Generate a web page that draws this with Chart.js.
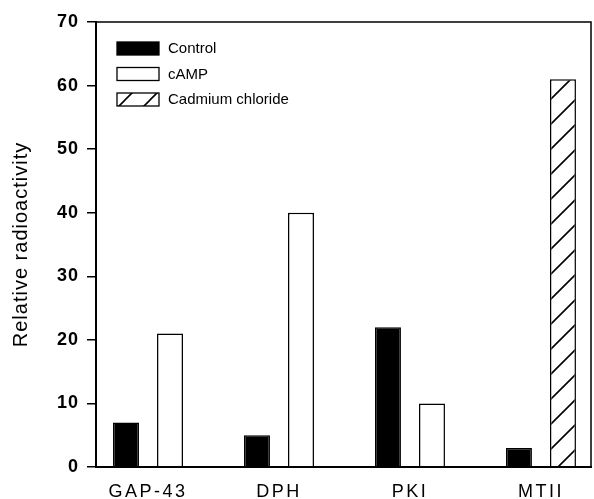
<!DOCTYPE html>
<html>
<head>
<meta charset="utf-8">
<script src="https://cdn.jsdelivr.net/npm/chart.js@4.4.1/dist/chart.umd.min.js"></script>
<style>
  body { margin: 0; background: #fff; }
  #wrap { width: 594px; height: 499px; }
</style>
</head>
<body>
<div id="wrap"><canvas id="chart" width="594" height="499"></canvas></div>
<script>
// values
const categories = ['GAP-43', 'DPH', 'PKI', 'MTII'];
const control = [7, 5, 22, 3];
const camp = [21, 40, 10, null];
const cadmium = [null, null, null, 61];
const yTicks = [0, 10, 20, 30, 40, 50, 60, 70];

const FONT = '"Liberation Sans", Arial, sans-serif';

// diagonal hatch for the cadmium bars
function makeHatch() {
  const c = document.createElement('canvas');
  c.width = 25; c.height = 25;
  const g = c.getContext('2d');
  g.fillStyle = '#fff';
  g.fillRect(0, 0, 25, 25);
  g.strokeStyle = '#000';
  g.lineWidth = 1.6;
  g.beginPath();
  g.moveTo(-2, 27); g.lineTo(27, -2);
  g.moveTo(-5, 5); g.lineTo(5, -5);
  g.moveTo(20, 30); g.lineTo(30, 20);
  g.stroke();
  return g.createPattern(c, 'repeat');
}
const hatch = makeHatch();

const toPoints = arr => arr.map((v, i) => ({ x: i, y: v }));

// the printed labels are set wide: a little for the y side, more for the x labels
const spacing = {
  id: 'spacing',
  beforeDraw(chart) { chart.ctx.letterSpacing = '1px'; },
  afterDatasetsDraw(chart) { chart.ctx.letterSpacing = '2.5px'; },
  afterDraw(chart) { chart.ctx.letterSpacing = '0px'; }
};

// legend drawn inside the plot, top left
const boxLegend = {
  id: 'boxLegend',
  afterDraw(chart) {
    const ctx = chart.ctx;
    const area = chart.chartArea;
    ctx.save();
    ctx.letterSpacing = '0px';
    ctx.font = '15px ' + FONT;
    ctx.textBaseline = 'middle';
    chart.data.datasets.forEach((ds, i) => {
      const x = area.left + 21;
      const y = area.top + 20 + i * 25.5;
      ctx.fillStyle = ds.backgroundColor;
      ctx.fillRect(x, y, 42, 13);
      ctx.strokeStyle = '#000';
      ctx.lineWidth = 1.3;
      ctx.strokeRect(x, y, 42, 13);
      ctx.fillStyle = '#000';
      ctx.fillText(ds.label, x + 51, y + 7);
    });
    ctx.restore();
  }
};

// closes the plot frame on top and right
const frame = {
  id: 'frame',
  afterDraw(chart) {
    const { ctx, chartArea: a } = chart;
    ctx.save();
    ctx.strokeStyle = '#000';
    ctx.lineWidth = 1.5;
    ctx.strokeRect(a.left, a.top, a.right - a.left, a.bottom - a.top);
    ctx.restore();
  }
};

new Chart(document.getElementById('chart'), {
  type: 'bar',
  data: {
    datasets: [
      { label: 'Control', data: toPoints(control), backgroundColor: '#000', borderColor: '#000', borderWidth: 1.5 },
      { label: 'cAMP', data: toPoints(camp), backgroundColor: '#fff', borderColor: '#000', borderWidth: 1.5 },
      { label: 'Cadmium chloride', data: toPoints(cadmium), backgroundColor: hatch, borderColor: '#000', borderWidth: 1.5 }
    ]
  },
  options: {
    responsive: false,
    animation: false,
    skipNull: true,
    categoryPercentage: 0.672,
    barPercentage: 0.59,
    layout: { padding: { left: 0, top: 22, right: 3, bottom: 0 } },
    plugins: {
      legend: { display: false },
      tooltip: { enabled: false }
    },
    scales: {
      x: {
        type: 'linear',
        offset: false,
        min: -0.397,
        max: 3.382,
        grid: { display: false, drawTicks: false, offset: false },
        border: { display: true, color: '#000', width: 2 },
        ticks: {
          z: 1,
          stepSize: 1,
          includeBounds: false,
          autoSkip: false,
          maxRotation: 0,
          color: '#000',
          padding: 14,
          font: { family: FONT, size: 18 },
          callback: v => categories[v] ?? ''
        },
        afterFit: s => { s.height = 32; }
      },
      y: {
        min: 0,
        max: 70,
        grid: { display: true, drawOnChartArea: false, drawTicks: true, tickLength: 9, color: '#000', lineWidth: 1.5 },
        border: { display: true, color: '#000', width: 2 },
        afterBuildTicks: s => { s.ticks = yTicks.map(v => ({ value: v })); },
        ticks: {
          color: '#000',
          padding: 8,
          font: { family: FONT, size: 18, weight: 'bold' }
        },
        title: {
          display: true,
          text: 'Relative radioactivity',
          color: '#000',
          padding: { top: 9, bottom: 0 },
          font: { family: FONT, size: 20 }
        },
        afterFit: s => { s.width = 96; }
      }
    }
  },
  plugins: [spacing, boxLegend, frame]
});
</script>
</body>
</html>
